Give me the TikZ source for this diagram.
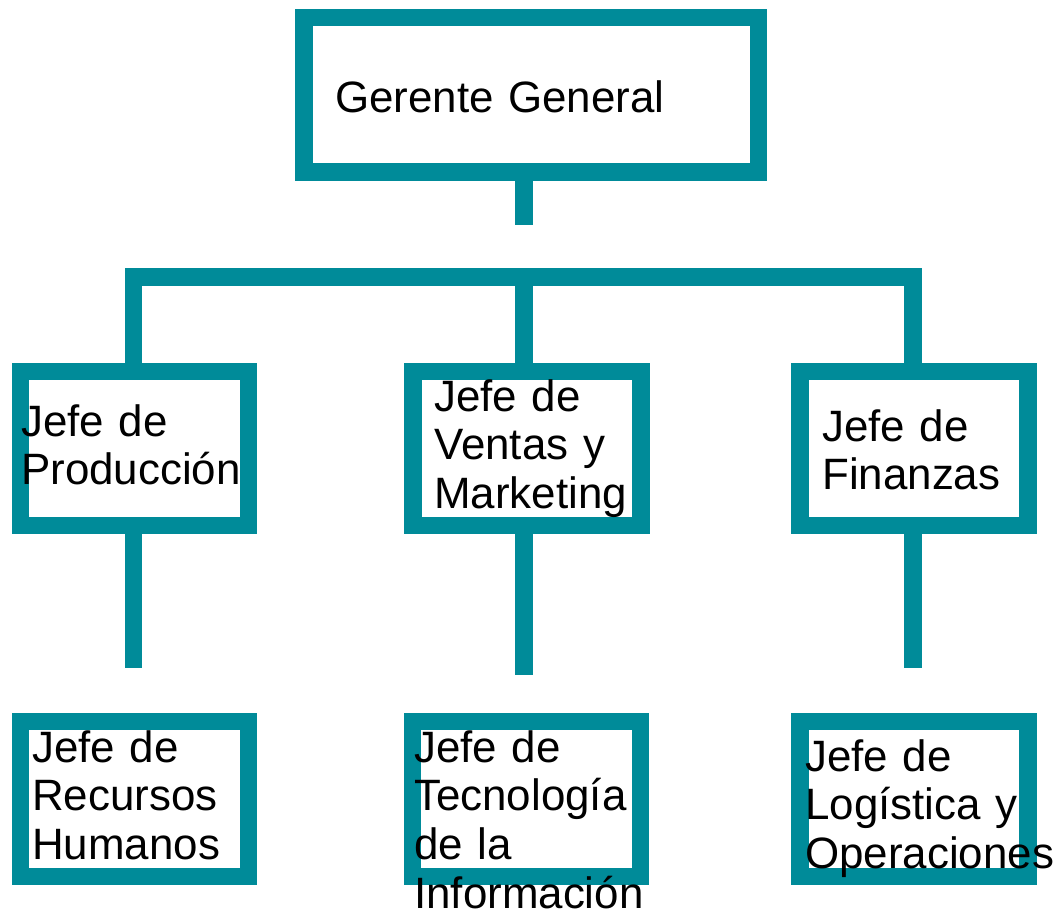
\documentclass[tikz,border=0pt]{standalone}
\usepackage{fontspec}
\setmainfont{Liberation Sans}
\usetikzlibrary{positioning}
\definecolor{orgteal}{RGB}{0,139,153}

\begin{document}
\begin{tikzpicture}[x=1pt,y=-1pt,
    cargo/.style={draw=orgteal, line width=17.5pt, minimum width=228pt, minimum height=154pt, inner sep=0pt},
    texto/.style={anchor=base west, align=left, text width=450pt, inner sep=0pt, font=\fontsize{43.9}{48.7}\selectfont},
    linea/.style={draw=orgteal, line width=17.5pt, line join=miter}]
            \useasboundingbox (0,0) rectangle (1061,910);
            % cajas
            \node[cargo, minimum width=454.5pt, minimum height=154.5pt] (gerente) at (531.25,94.75) {};
            \node[cargo] (prod) at (134.25,448.5) {};
            \node[cargo] (ventas) at (527,448.5) {};
            \node[cargo] (fin) at (914,448.5) {};
            \node[cargo, minimum height=155pt] (rrhh) at (134.5,799) {};
            \node[cargo, minimum height=155pt] (tec) at (526.5,799) {};
            \node[cargo, minimum height=155pt] (log) at (914,799) {};
            % textos
            \node[texto] (tgerente) at (335,112) {Gerente General};
            \node[texto] (tprod) at (21,436) {Jefe de\\Producción};
            \node[texto] (tventas) at (434,411) {Jefe de\\Ventas y\\Marketing};
            \node[texto] (tfin) at (822,441) {Jefe de\\Finanzas};
            \node[texto] (trrhh) at (32,762) {Jefe de\\Recursos\\Humanos};
            \node[texto] (ttec) at (414,762) {Jefe de\\Tecnología\\de la\\Información};
            \node[texto] (tlog) at (805,771) {Jefe de\\Logística y\\Operaciones};
            % conectores
            \coordinate (gstem) at (524,225);
            \coordinate (barL) at (133.5,277);
            \coordinate (barM) at (524,277);
            \coordinate (barR) at (913,277);
            \coordinate (lowL) at (133.5,668);
            \coordinate (lowM) at (524,675);
            \coordinate (lowR) at (913,668);
    	    \path[linea] (gerente.south -| gstem) -- (gstem);
    	    \path[linea] (prod.north -| barL) -- (barL) -- (barR) -- (fin.north -| barR);
    	    \path[linea] (barM) -- (ventas.north -| barM);
    	    \path[linea] (prod.south -| lowL) -- (lowL);
    	    \path[linea] (ventas.south -| lowM) -- (lowM);
    	    \path[linea] (fin.south -| lowR) -- (lowR);
	    \end{tikzpicture}
\end{document}
